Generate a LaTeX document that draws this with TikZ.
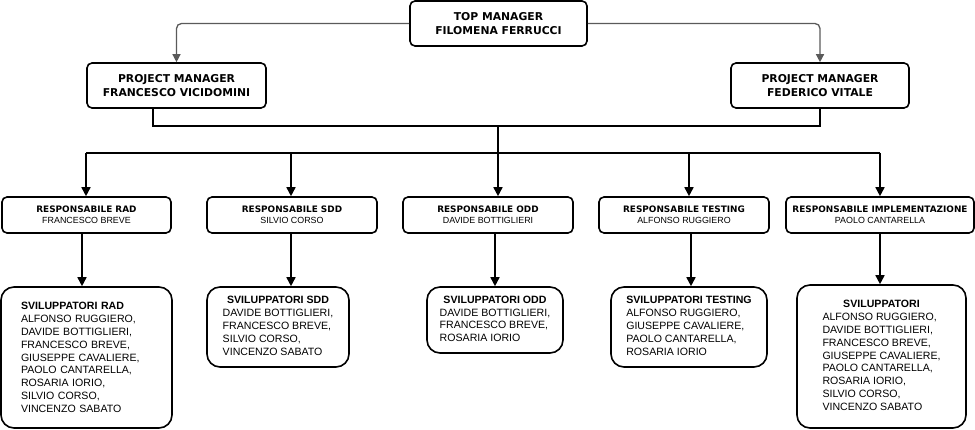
\documentclass[tikz,border=0pt]{standalone}
\usepackage{fontspec}
\setmainfont{Liberation Sans}
\newfontfamily\hdfont{DejaVu Sans}
\usetikzlibrary{arrows.meta}
\definecolor{garrow}{HTML}{5A5A5A}
\begin{document}
\begin{tikzpicture}[x=1pt,y=-1pt,
  box/.style={draw=black, line width=1.6pt, rounded corners=5pt, fill=white, align=center, inner sep=0pt},
  head/.style={box, minimum height=45pt, font=\hdfont\bfseries\fontsize{10.8}{14}\selectfont},
  resp/.style={box, minimum height=36pt, font=\fontsize{8.9}{11}\selectfont},
  svil/.style={draw=black, line width=1.6pt, rounded corners=13pt, fill=white, inner sep=0pt, font=\fontsize{10.6}{12.8}\selectfont},
  link/.style={line width=1.6pt},
  arr/.style={line width=1.6pt, -{Triangle[length=9pt,width=9pt]}},
  garr/.style={draw=garrow, line width=1.3pt, rounded corners=5pt, -{Triangle[length=8pt,width=8pt]}}
]
\useasboundingbox (0,0) rectangle (975,430);

% top level
\node[head, minimum width=177pt] (top) at (498.5,23.5) {TOP MANAGER\\FILOMENA FERRUCCI};
\node[head, minimum width=179pt] (pm1) at (176.5,85.5) {PROJECT MANAGER\\FRANCESCO VICIDOMINI};
\node[head, minimum width=178pt] (pm2) at (820,85.5) {PROJECT MANAGER\\FEDERICO VITALE};

% responsabili
\node[resp, minimum width=169pt] (rrad) at (86.5,215) {{\hdfont\bfseries RESPONSABILE RAD}\\FRANCESCO BREVE};
\node[resp, minimum width=170pt] (rsdd) at (292,215) {{\hdfont\bfseries RESPONSABILE SDD}\\SILVIO CORSO};
\node[resp, minimum width=170pt] (rodd) at (488,215) {{\hdfont\bfseries RESPONSABILE ODD}\\DAVIDE BOTTIGLIERI};
\node[resp, minimum width=170pt] (rtest) at (684,215) {{\hdfont\bfseries RESPONSABILE TESTING}\\ALFONSO RUGGIERO};
\node[resp, minimum width=188pt] (rimpl) at (880,215) {{\hdfont\bfseries RESPONSABILE IMPLEMENTAZIONE}\\PAOLO CANTARELLA};

% sviluppatori
\node[svil, minimum width=171pt, minimum height=141pt, text width=131pt, inner xsep=20pt, align=left] (srad) at (86.5,357.5)
  {\textbf{SVILUPPATORI RAD}\\ALFONSO RUGGIERO,\\DAVIDE BOTTIGLIERI,\\FRANCESCO BREVE,\\GIUSEPPE CAVALIERE,\\PAOLO CANTARELLA,\\ROSARIA IORIO,\\SILVIO CORSO,\\VINCENZO SABATO};
\node[svil, minimum width=142pt, minimum height=80pt] (ssdd) at (278,327)
  {\begin{tabular}{@{}l@{}}\multicolumn{1}{@{}c@{}}{\textbf{SVILUPPATORI SDD}}\\DAVIDE BOTTIGLIERI,\\FRANCESCO BREVE,\\SILVIO CORSO,\\VINCENZO SABATO\end{tabular}};
\node[svil, minimum width=136pt, minimum height=66pt] (sodd) at (495,320)
  {\begin{tabular}{@{}l@{}}\multicolumn{1}{@{}c@{}}{\textbf{SVILUPPATORI ODD}}\\DAVIDE BOTTIGLIERI,\\FRANCESCO BREVE,\\ROSARIA IORIO\end{tabular}};
\node[svil, minimum width=156pt, minimum height=80pt] (stest) at (689,327)
  {\begin{tabular}{@{}l@{}}\multicolumn{1}{@{}c@{}}{\textbf{SVILUPPATORI TESTING}}\\ALFONSO RUGGIERO,\\GIUSEPPE CAVALIERE,\\PAOLO CANTARELLA,\\ROSARIA IORIO\end{tabular}};
\node[svil, minimum width=169pt, minimum height=143pt] (simpl) at (881.5,356.5)
  {\begin{tabular}{@{}l@{}}\multicolumn{1}{@{}c@{}}{\textbf{SVILUPPATORI}}\\ALFONSO RUGGIERO,\\DAVIDE BOTTIGLIERI,\\FRANCESCO BREVE,\\GIUSEPPE CAVALIERE,\\PAOLO CANTARELLA,\\ROSARIA IORIO,\\SILVIO CORSO,\\VINCENZO SABATO\end{tabular}};

% top manager to project managers
\draw[garr] (top.west) -| (pm1.north);
\draw[garr] (top.east) -| (pm2.north);

% project managers join
\coordinate (j) at (498,126);
\draw[link] ([xshift=-23.5pt]pm1.south) |- (j);
\draw[link] (pm2.south) |- (j);
\draw[arr] (j) -- (j |- rodd.north);

% bus
\coordinate (b1) at (86,153);
\coordinate (b2) at (291,153);
\coordinate (b4) at (689,153);
\coordinate (b5) at (880,153);
\draw[link] (b1) -- (b5);
\draw[arr] (b1) -- (b1 |- rrad.north);
\draw[arr] (b2) -- (b2 |- rsdd.north);
\draw[arr] (b4) -- (b4 |- rtest.north);
\draw[arr] (b5) -- (b5 |- rimpl.north);

% responsabili to sviluppatori
\coordinate (x1) at (82,0);
\coordinate (x2) at (291,0);
\coordinate (x3) at (495,0);
\coordinate (x4) at (691,0);
\coordinate (x5) at (880,0);
\draw[arr] (rrad.south -| x1) -- (srad.north -| x1);
\draw[arr] (rsdd.south -| x2) -- (ssdd.north -| x2);
\draw[arr] (rodd.south -| x3) -- (sodd.north -| x3);
\draw[arr] (rtest.south -| x4) -- (stest.north -| x4);
\draw[arr] (rimpl.south -| x5) -- (simpl.north -| x5);
\end{tikzpicture}
\end{document}
